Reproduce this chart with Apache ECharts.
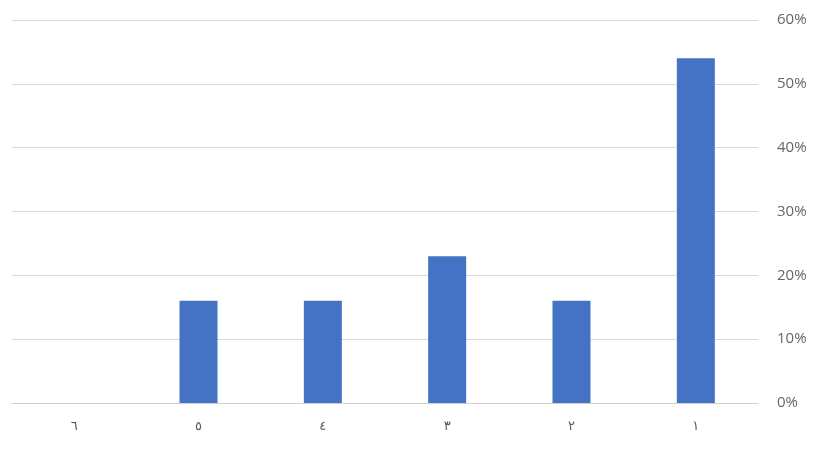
<!DOCTYPE html>
<html><head><meta charset="utf-8">
<script src="https://cdn.jsdelivr.net/npm/echarts@6/dist/echarts.min.js"></script>
<style>html,body{margin:0;padding:0;background:#fff}#c{width:824px;height:455px}</style>
</head><body><div id="c"></div>
<script>
const categories = ['١','٢','٣','٤','٥','٦'];
const values = [54, 16, 23, 16, 16, 0];
const yTicks = [0, 10, 20, 30, 40, 50, 60];

const chart = echarts.init(document.getElementById('c'));
chart.setOption({
  backgroundColor: '#fff',
  animation: false,
  grid: {left: 12, right: 66, top: 20, bottom: 52},
  xAxis: {
    type: 'category', data: categories, inverse: true,
    axisLine: {lineStyle: {color: '#d0d0d0', width: 1}},
    axisTick: {show: false},
    axisLabel: {color: '#595959', fontSize: 13, margin: 17, fontFamily: 'DejaVu Sans'}
  },
  yAxis: {
    type: 'value', position: 'right', min: yTicks[0], max: yTicks[yTicks.length-1], interval: 10,
    axisLine: {show: false}, axisTick: {show: false},
    splitLine: {lineStyle: {color: '#d9d9d9', width: 1}},
    axisLabel: {color: '#666666', fontSize: 15, margin: 19, fontFamily: 'Open Sans', formatter: v => v + '%'}
  },
  series: [{
    type: 'bar', data: values, barWidth: 38,
    itemStyle: {color: '#4472C4'}
  }]
});
</script></body></html>
